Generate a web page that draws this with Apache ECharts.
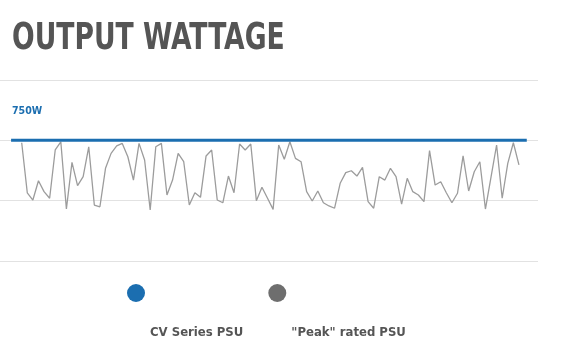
<!DOCTYPE html>
<html>
<head>
<meta charset="utf-8">
<script src="https://cdn.jsdelivr.net/npm/echarts@6/dist/echarts.min.js"></script>
<style>
html,body{margin:0;padding:0;background:#fff;}
#chart{width:561px;height:351px;}
</style>
</head>
<body>
<div id="chart"></div>
<script>
// ---- data ----
const titleText = 'OUTPUT WATTAGE';
const ratedLabel = '750W';
const seriesNames = ['CV Series PSU', '"Peak" rated PSU'];
const cvRatedWatts = 750;
const cvRange = [-1.9, 90.4];          // sample-index span of the flat CV line
const peakWatts = [
  735, 424, 379, 499, 431, 390, 690, 741, 323, 613,
  468, 524, 710, 348, 337, 576, 669, 715, 731, 648,
  503, 731, 628, 317, 710, 731, 410, 503, 669, 617,
  348, 424, 396, 653, 690, 379, 362, 528, 424, 727,
  690, 727, 375, 458, 390, 321, 721, 632, 741, 638,
  617, 431, 373, 435, 362, 342, 328, 483, 549, 561,
  528, 582, 369, 328, 524, 503, 576, 524, 354, 514,
  431, 410, 369, 686, 472, 493, 424, 362, 421, 653,
  435, 555, 617, 323, 522, 721, 390, 607, 735, 597
];
const yTicks = [0, 375, 750, 1125];

// ---- chart ----
const chart = echarts.init(document.getElementById('chart'), null, {renderer: 'canvas'});
const font = '"DejaVu Sans Condensed", "Liberation Sans Narrow", sans-serif';

const peakData = peakWatts.map((v, i) => [i, v]);
const cvData = cvRange.map(x => [x, cvRatedWatts]);

chart.setOption({
  animation: false,
  backgroundColor: '#ffffff',
  title: [
    {
      text: ratedLabel, left: 12, top: 106, padding: 0,
      textStyle: {fontFamily: font, fontWeight: 'bold', fontSize: 10.5, color: '#1b6eb0'}
    }
  ],
  graphic: [
    {
      type: 'text', left: 12, top: 21, scaleX: 0.8, scaleY: 1,
      style: {
        text: titleText, fontFamily: font, fontWeight: 'bold', fontSize: 37,
        fill: '#555555'
      }
    }
  ],
  legend: {
    data: seriesNames,
    left: 122, top: 228,
    icon: 'circle',
    itemWidth: 18, itemHeight: 18,
    itemGap: 25,
    formatter: name => '\n\n' + name,
    textStyle: {
      fontFamily: font, fontWeight: 'bold', fontSize: 13, color: '#555555',
      lineHeight: 40
    }
  },
  grid: {left: 0, right: 23, top: 80, bottom: 90, containLabel: false},
  xAxis: {
    type: 'value', min: -3.884, max: 92.41,
    show: false, splitLine: {show: false}
  },
  yAxis: {
    type: 'value', min: yTicks[0], max: yTicks[yTicks.length - 1], interval: yTicks[1] - yTicks[0],
    axisLine: {show: false}, axisTick: {show: false}, axisLabel: {show: false},
    splitLine: {show: true, lineStyle: {color: '#e2e2e2', width: 1}}
  },
  series: [
    {
      name: seriesNames[0], type: 'line', data: cvData,
      symbol: 'none', z: 3,
      itemStyle: {color: '#1b6eb0'},
      lineStyle: {color: '#1b6eb0', width: 3}
    },
    {
      name: seriesNames[1], type: 'line', data: peakData,
      symbol: 'none', z: 2,
      itemStyle: {color: '#6e6e6e'},
      lineStyle: {color: '#9c9c9c', width: 1.3}
    }
  ]
});
</script>
</body>
</html>
